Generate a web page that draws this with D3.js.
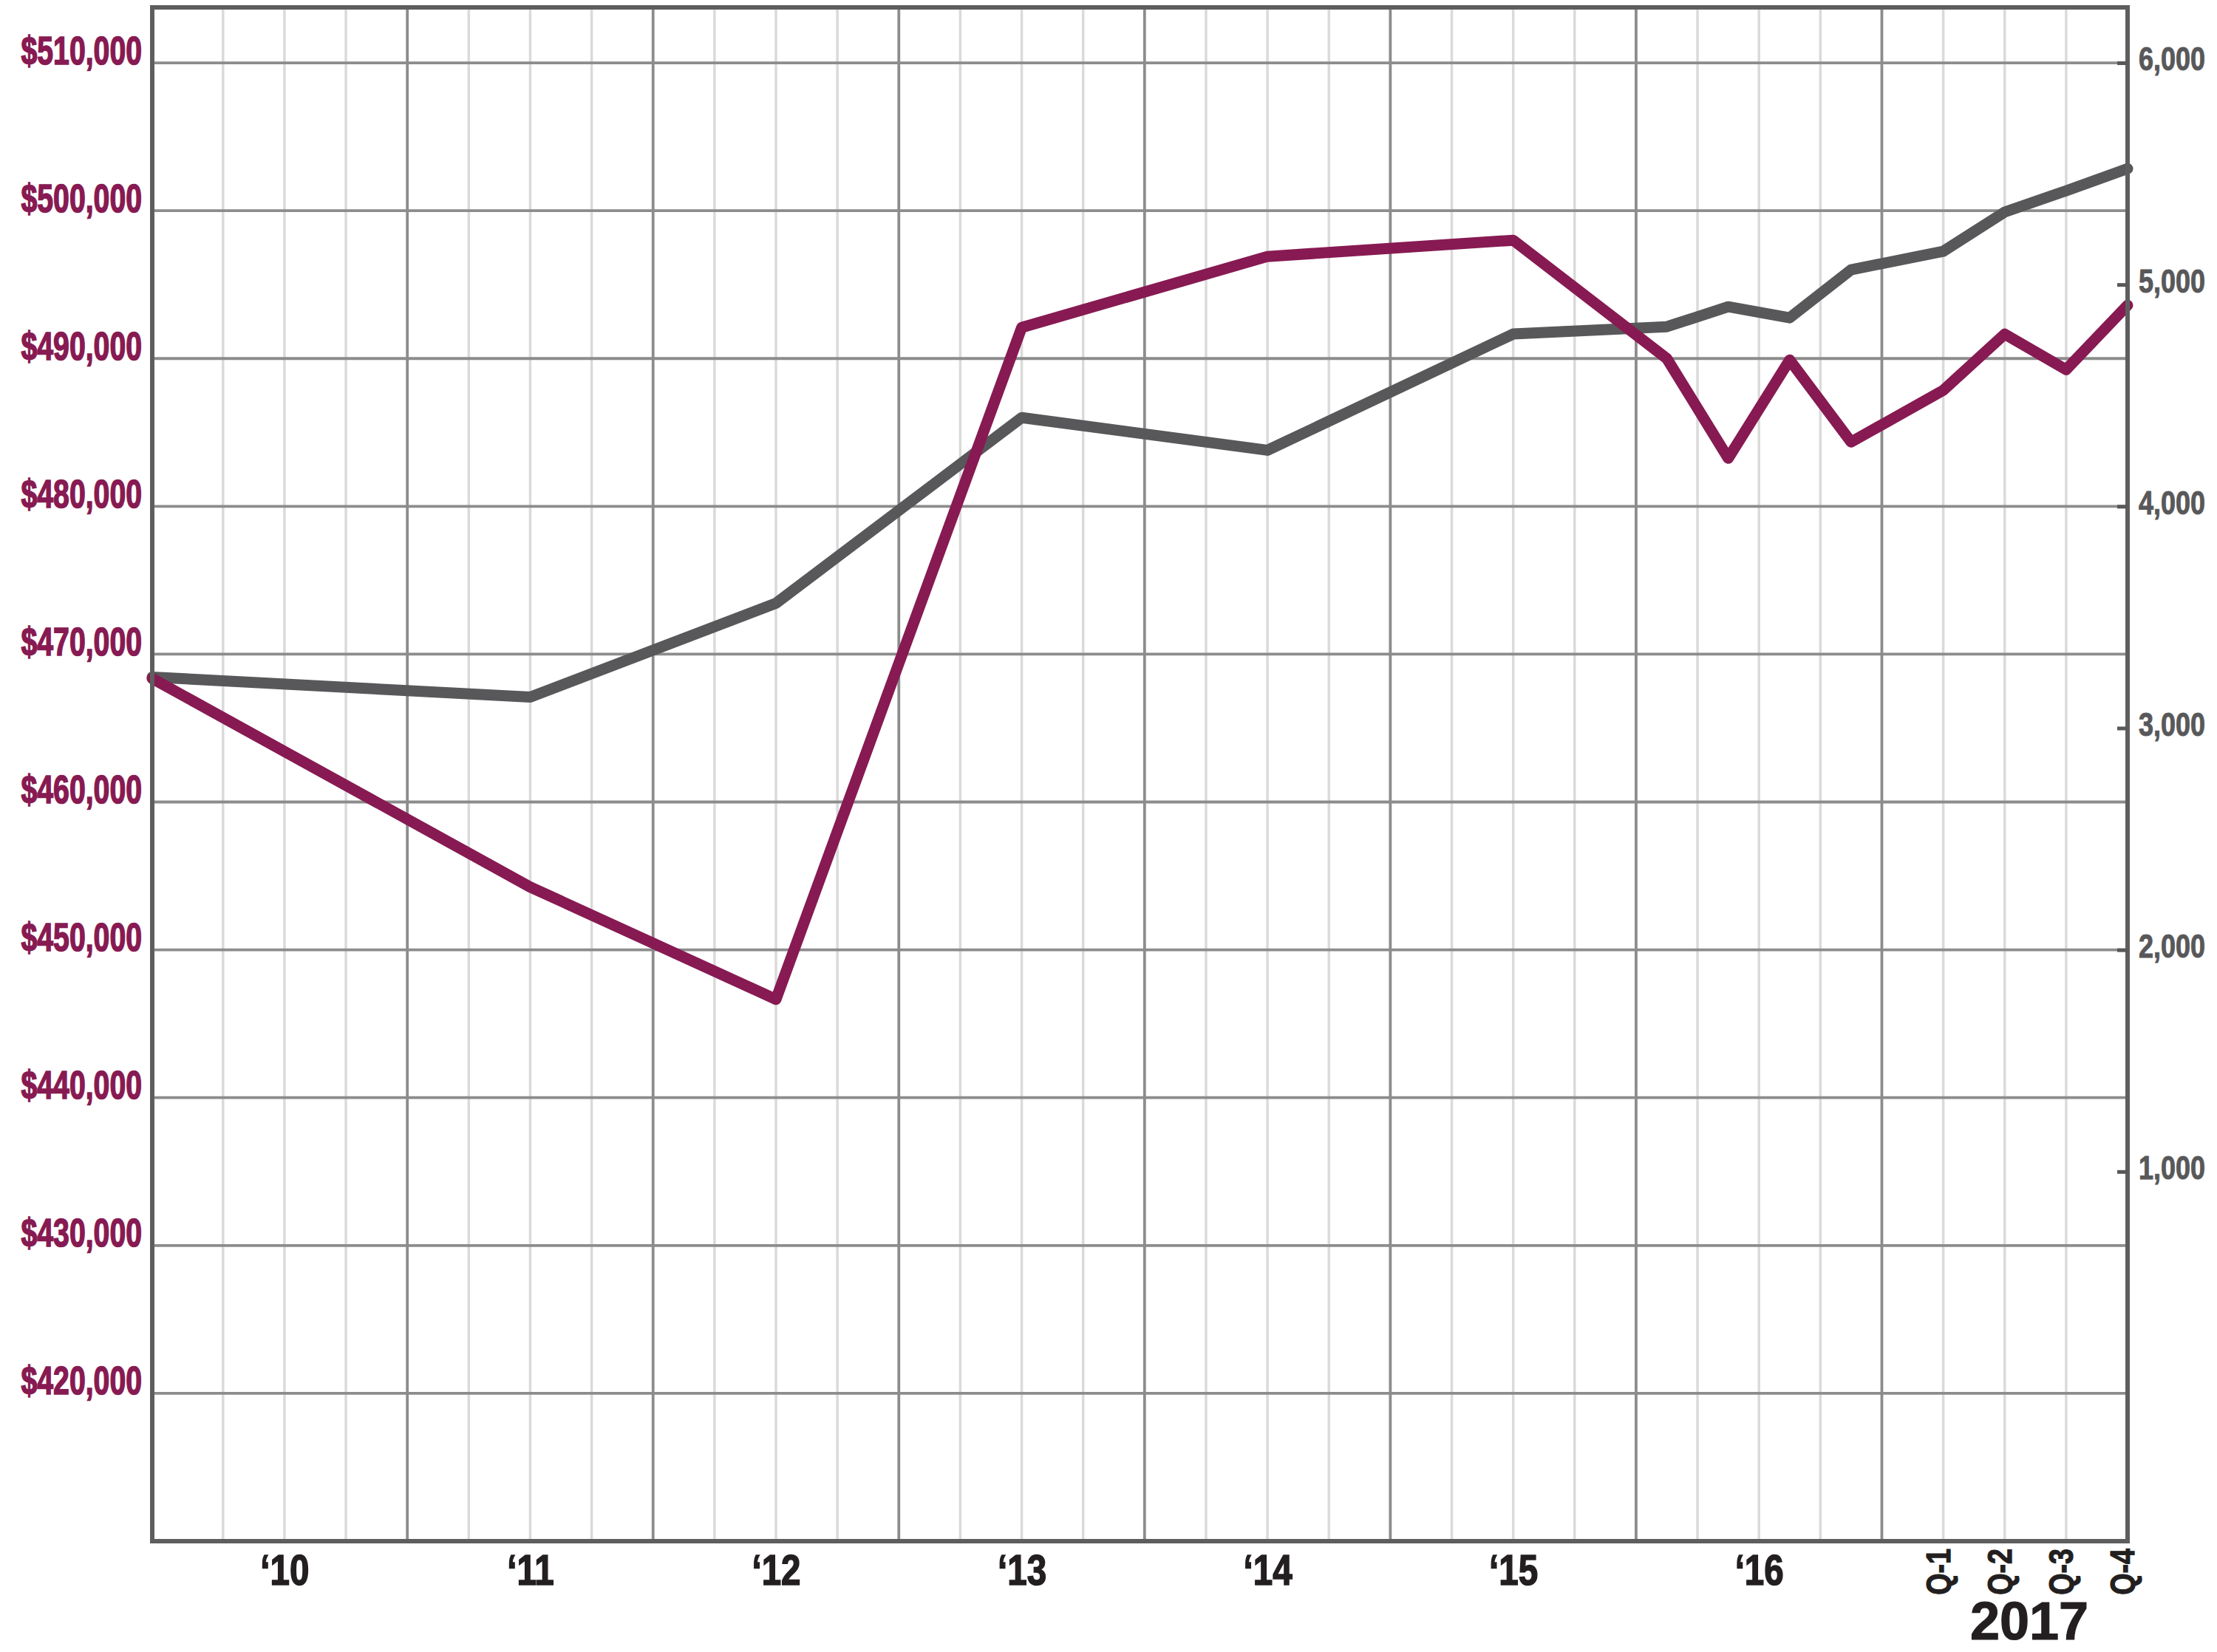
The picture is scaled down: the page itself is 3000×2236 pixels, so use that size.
<!DOCTYPE html>
<html>
<head>
<meta charset="utf-8">
<script src="https://cdn.jsdelivr.net/npm/d3@7/dist/d3.min.js"></script>
<style>
  html, body { margin: 0; padding: 0; background: #ffffff; }
  svg { display: block; }
  .cond { font-family: "Liberation Sans", Arial, "Helvetica", sans-serif; font-weight: bold; }
</style>
</head>
<body>
<svg id="chart" width="3000" height="2236"></svg>
<script>
// ---------------- DATA ----------------
const periods = ["2010", "2011", "2012", "2013", "2014", "2015",
  "2016 Q1", "2016 Q2", "2016 Q3", "2016 Q4",
  "2017 Q1", "2017 Q2", "2017 Q3", "2017 Q4"];
// position in time (decimal years) of each period
const periodTime = [2009.962, 2011.5, 2012.5, 2013.5, 2014.5, 2015.5,
  2016.125, 2016.375, 2016.625, 2016.875,
  2017.25, 2017.5, 2017.75, 2018.0];
// left axis series (median price, $)
const medianPrice = [468350, 454250, 446650, 492100, 496900, 498000,
  490000, 483250, 489900, 484350,
  487850, 491650, 489250, 493600];
// right axis series (count)
const salesCount = [3230, 3140, 3563, 4400, 4253, 4777,
  4810, 4900, 4850, 5067,
  5150, 5327, 5423, 5523];

const priceTicks = [420000, 430000, 440000, 450000, 460000, 470000, 480000, 490000, 500000, 510000];
const countTicks = [1000, 2000, 3000, 4000, 5000, 6000];
const yearTicks = [2010, 2011, 2012, 2013, 2014, 2015, 2016];
const yearLabels = ["\u201810", "\u201811", "\u201812", "\u201813", "\u201814", "\u201815", "\u201816"];
const quarterLabels = ["Q-1", "Q-2", "Q-3", "Q-4"];
const quarterYear = 2017;
const priceDomain = [410000, 513750];

// ---------------- LAYOUT ----------------
const plot = { left: 206, right: 2879, top: 10, bottom: 2086 };
const purple = "#871a52";
const darkGray = "#58585a";
const ink = "#231f20";

// horizontally condense a text selection (no narrow font available)
function condense(sel, sx) {
  sel.each(function () {
    const t = d3.select(this);
    const x0 = +t.attr("x") || 0;
    t.attr("x", x0 / sx).attr("transform", `scale(${sx},1)`);
  });
}

const svg = d3.select("#chart");
svg.append("rect").attr("width", 3000).attr("height", 2236).attr("fill", "#fff");

const x = d3.scaleLinear().domain([periodTime[0], periodTime[periodTime.length - 1]])
  .range([plot.left, plot.right]);
const yL = d3.scaleLinear().domain(priceDomain).range([plot.bottom, plot.top]);
// right axis: 0 aligned with $420,000, 6,000 aligned with $510,000
const countPerDollar = 6000 / (priceTicks[priceTicks.length - 1] - priceTicks[0]);
const yR = d3.scaleLinear()
  .domain(priceDomain.map(v => (v - priceTicks[0]) * countPerDollar))
  .range([plot.bottom, plot.top]);

const g = svg.append("g");

// minor (quarter) gridlines
const minorTimes = [];
for (let yr = 2010; yr <= 2017; yr++) [0.25, 0.5, 0.75].forEach(q => minorTimes.push(yr + q));
g.append("g").selectAll("line").data(minorTimes).join("line")
  .attr("x1", d => x(d)).attr("x2", d => x(d))
  .attr("y1", plot.top).attr("y2", plot.bottom)
  .attr("stroke", "#dadada").attr("stroke-width", 3.5);

// major (year) gridlines
const majorTimes = d3.range(2011, 2018);
g.append("g").selectAll("line").data(majorTimes).join("line")
  .attr("x1", d => x(d)).attr("x2", d => x(d))
  .attr("y1", plot.top).attr("y2", plot.bottom)
  .attr("stroke", "#8c8c8c").attr("stroke-width", 3.8);

// horizontal gridlines
g.append("g").selectAll("line").data(priceTicks).join("line")
  .attr("x1", plot.left).attr("x2", plot.right)
  .attr("y1", d => yL(d)).attr("y2", d => yL(d))
  .attr("stroke", "#8c8c8c").attr("stroke-width", 3.8);

// series lines
const pts = periods.map((p, i) => ({ t: periodTime[i], price: medianPrice[i], count: salesCount[i] }));
const lineCount = d3.line().x(d => x(d.t)).y(d => yR(d.count));
const linePrice = d3.line().x(d => x(d.t)).y(d => yL(d.price));

g.append("path").datum(pts).attr("d", lineCount)
  .attr("fill", "none").attr("stroke", darkGray).attr("stroke-width", 15)
  .attr("stroke-linejoin", "round").attr("stroke-linecap", "round");
g.append("path").datum(pts).attr("d", linePrice)
  .attr("fill", "none").attr("stroke", purple).attr("stroke-width", 15)
  .attr("stroke-linejoin", "round").attr("stroke-linecap", "round");

// frame
g.append("rect")
  .attr("x", plot.left).attr("y", plot.top)
  .attr("width", plot.right - plot.left).attr("height", plot.bottom - plot.top)
  .attr("fill", "none").attr("stroke", "#5e5e5e").attr("stroke-width", 6);

// left axis
const leftAxis = svg.append("g").attr("transform", `translate(${plot.left},0)`)
  .call(d3.axisLeft(yL).tickValues(priceTicks).tickSize(0).tickPadding(14)
    .tickFormat(d => "$" + d3.format(",")(d)));
leftAxis.select(".domain").remove();
leftAxis.selectAll("text").attr("class", "cond").attr("fill", purple)
  .attr("stroke", purple).attr("stroke-width", 1.6)
  .attr("font-size", 53).attr("dy", "0.02em")
  .call(condense, 0.74);

// right axis
const rightAxis = svg.append("g").attr("transform", `translate(${plot.right},0)`)
  .call(d3.axisRight(yR).tickValues(countTicks).tickSizeInner(-14).tickSizeOuter(0).tickPadding(15)
    .tickFormat(d3.format(",")));
rightAxis.select(".domain").remove();
rightAxis.selectAll(".tick line").attr("stroke", darkGray).attr("stroke-width", 5);
rightAxis.selectAll("text").attr("class", "cond").attr("fill", darkGray)
  .attr("stroke", darkGray).attr("stroke-width", 1)
  .attr("font-size", 45).attr("dy", "0.22em")
  .call(condense, 0.8);

// bottom axis: years
const bottomAxis = svg.append("g").attr("transform", `translate(0,${plot.bottom})`)
  .call(d3.axisBottom(x).tickValues(yearTicks.map(y => y + 0.5)).tickSize(0).tickPadding(0)
    .tickFormat((d, i) => yearLabels[i]));
bottomAxis.select(".domain").remove();
bottomAxis.selectAll("text").attr("class", "cond").attr("fill", ink)
  .attr("stroke", ink).attr("stroke-width", 1.6)
  .attr("font-size", 58).attr("y", 59).attr("dy", 0)
  .call(condense, 0.82);

// quarter labels (rotated)
const qAxis = svg.append("g");
qAxis.selectAll("text").data(quarterLabels).join("text")
  .attr("class", "cond")
  .attr("transform", (d, i) => `translate(${x(quarterYear + (i + 1) * 0.25) + 9},${plot.bottom + 10}) rotate(-90) scale(0.82,1)`)
  .attr("text-anchor", "end")
  .attr("font-size", 46).attr("fill", ink)
  .attr("stroke", ink).attr("stroke-width", 1.2)
  .text(d => d);

// year label under quarters
svg.append("text")
  .attr("x", x(quarterYear + 0.6)).attr("y", 2219)
  .attr("text-anchor", "middle")
  .attr("font-family", "'Liberation Sans', Arial, sans-serif")
  .attr("font-weight", "bold").attr("font-size", 72).attr("fill", ink)
  .attr("stroke", ink).attr("stroke-width", 1.2)
  .text(String(quarterYear));
</script>
</body>
</html>
